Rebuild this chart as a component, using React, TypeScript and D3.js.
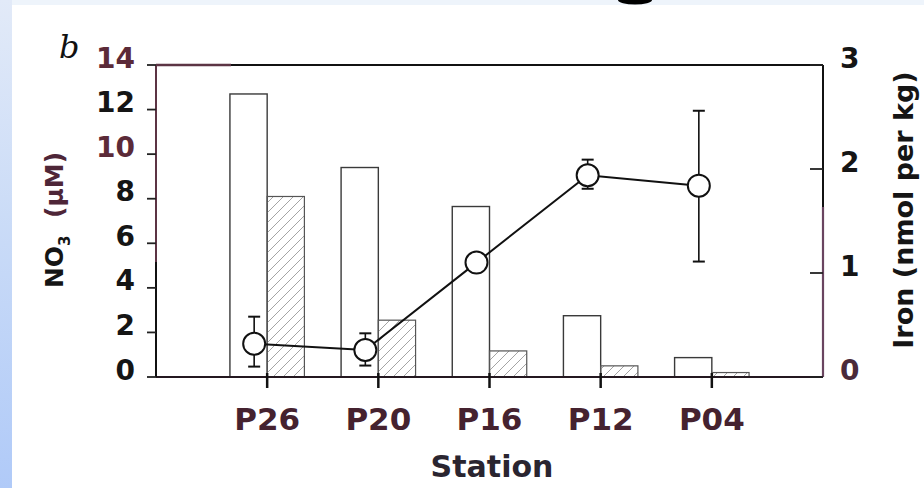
import React from 'react';
import * as d3 from 'd3';

// ---- data ----
const stations = ['P26', 'P20', 'P16', 'P12', 'P04'];
const no3Open = [12.7, 9.4, 7.65, 2.75, 0.87];
const no3Hatched = [8.1, 2.55, 1.17, 0.5, 0.2];
const iron = [0.32, 0.26, 1.1, 1.94, 1.84];
const ironUpper = [0.58, 0.42, 1.1, 2.09, 2.56];
const ironLower = [0.1, 0.11, 1.1, 1.81, 1.11];
const leftTicks = [0, 2, 4, 6, 8, 10, 12, 14];
const rightTicks = [0, 1, 2, 3];
const leftTickColors: Record<number, string> = { 14: '#5b2a38', 10: '#5b2a38' };

const W = 924;
const H = 488;
const L = 156, R = 823, T = 65, B = 377;
const FONT = '"DejaVu Sans", sans-serif';

export default function App() {
  const x = d3.scaleLinear().domain([0, stations.length + 1]).range([L, R]);
  const yL = d3.scaleLinear().domain([0, 14]).range([B, T]);
  const yR = d3.scaleLinear().domain([0, 3]).range([B, T]);
  const half = 0.335; // bar width in x-domain units
  const ptOff = -13; // iron marker offset (px)

  const linePts: [number, number][] = iron.map((v, i) => [x(i + 1) + ptOff, yR(v)]);
  const line = d3.line()(linePts) || '';

  return (
    <svg width={W} height={H} style={{ position: 'absolute', left: 0, top: 0 }}>
      <defs>
        <linearGradient id="strip" x1="0" y1="0" x2="0" y2="1">
          <stop offset="0" stopColor="#e2eaf8" />
          <stop offset="0.5" stopColor="#c8daf7" />
          <stop offset="1" stopColor="#b0caf8" />
        </linearGradient>
        <pattern id="hatch" patternUnits="userSpaceOnUse" width="10" height="10">
          <path d="M-1,11 L11,-1 M-2,2 L2,-2 M8,12 L12,8" stroke="#9a9a9a" strokeWidth="0.9" />
        </pattern>
      </defs>
      <rect x={0} y={0} width={W} height={H} fill="#ffffff" />
      <rect x={12} y={0} width={W - 12} height={5} fill="#eef4fb" />
      <rect x={0} y={0} width={12} height={H} fill="url(#strip)" />
      <ellipse cx={635} cy={0} rx={17} ry={4.5} fill="#000" />

      {/* bars */}
      {stations.map((s, i) => (
        <g key={s}>
          <rect
            x={x(i + 1 - half)}
            y={yL(no3Open[i])}
            width={x(i + 1) - x(i + 1 - half)}
            height={B - yL(no3Open[i])}
            fill="#fff"
            stroke="#3a3a3a"
            strokeWidth={1.4}
          />
          <rect
            x={x(i + 1)}
            y={yL(no3Hatched[i])}
            width={x(i + 1 + half) - x(i + 1)}
            height={B - yL(no3Hatched[i])}
            fill="url(#hatch)"
            stroke="#555"
            strokeWidth={1.2}
          />
        </g>
      ))}

      {/* axes frame */}
      <line x1={L} y1={T} x2={R} y2={T} stroke="#111" strokeWidth={2} />
      <line x1={L} y1={T} x2={L + 75} y2={T} stroke="#5c3444" strokeWidth={2.5} />
      <line x1={L} y1={B} x2={R} y2={B} stroke="#241820" strokeWidth={2} />
      <line x1={L} y1={T} x2={L} y2={262} stroke="#5c3444" strokeWidth={2} />
      <line x1={L} y1={262} x2={L} y2={B} stroke="#111" strokeWidth={2} />
      <line x1={R} y1={T} x2={R} y2={207} stroke="#111" strokeWidth={2} />
      <line x1={R} y1={207} x2={R} y2={B} stroke="#6a4560" strokeWidth={2.2} />

      {/* left ticks */}
      {leftTicks.map((t) => (
        <g key={'l' + t}>
          <line x1={L - 9} y1={yL(t)} x2={L} y2={yL(t)} stroke="#222" strokeWidth={1.8} />
          <text
            x={135}
            y={yL(t) - 7}
            textAnchor="end"
            dominantBaseline="central"
            fontFamily={FONT}
            fontWeight="bold"
            fontSize={28}
            fill={leftTickColors[t] || '#151515'}
          >
            {t}
          </text>
        </g>
      ))}

      {/* right ticks */}
      {rightTicks.map((t) => (
        <g key={'r' + t}>
          <line x1={R - 13} y1={yR(t)} x2={R} y2={yR(t)} stroke="#222" strokeWidth={1.8} />
          <text
            x={840}
            y={yR(t) - 7}
            textAnchor="start"
            dominantBaseline="central"
            fontFamily={FONT}
            fontWeight="bold"
            fontSize={28}
            fill={t === 0 ? '#4a2a3a' : '#151515'}
          >
            {t}
          </text>
        </g>
      ))}

      {/* x ticks + labels */}
      {stations.map((s, i) => (
        <g key={'x' + s}>
          <line x1={x(i + 1)} y1={B - 4} x2={x(i + 1)} y2={B + 11} stroke="#111" strokeWidth={2.5} />
          <text
            x={x(i + 1)}
            y={430}
            textAnchor="middle"
            fontFamily={FONT}
            fontWeight="bold"
            fontSize={31}
            fill="#45222f"
          >
            {s}
          </text>
        </g>
      ))}
      <text x={492} y={477} textAnchor="middle" fontFamily={FONT} fontWeight="bold" fontSize={30} fill="#2a2530">
        Station
      </text>

      {/* iron line + error bars + markers */}
      <path d={line} fill="none" stroke="#111" strokeWidth={2} />
      {iron.map((v, i) => {
        const cx = x(i + 1) + ptOff;
        return (
          <g key={'e' + i}>
            <line x1={cx} y1={yR(ironUpper[i])} x2={cx} y2={yR(ironLower[i])} stroke="#111" strokeWidth={1.6} />
            <line x1={cx - 6} y1={yR(ironUpper[i])} x2={cx + 6} y2={yR(ironUpper[i])} stroke="#111" strokeWidth={2} />
            <line x1={cx - 6} y1={yR(ironLower[i])} x2={cx + 6} y2={yR(ironLower[i])} stroke="#111" strokeWidth={2} />
            <circle cx={cx} cy={yR(v)} r={11} fill="#fff" stroke="#111" strokeWidth={2} />
          </g>
        );
      })}

      {/* axis titles */}
      <text
        transform="translate(63,220) rotate(-90)"
        textAnchor="middle"
        fontFamily={FONT}
        fontWeight="bold"
        fontSize={25}
        fill="#151515"
      >
        NO<tspan fontSize={15} dy={7}>3</tspan>
        <tspan dy={-7}>{'\u00a0\u00a0'}</tspan>
        <tspan fill="#4e2638">(µM)</tspan>
      </text>
      <text
        transform="translate(913,210) rotate(-90)"
        textAnchor="middle"
        fontFamily={FONT}
        fontWeight="bold"
        fontSize={27}
        fill="#151515"
      >
        Iron (nmol per kg)
      </text>
      <text x={59} y={58} fontFamily='"DejaVu Serif", serif' fontStyle="italic" fontSize={32} fill="#111">
        b
      </text>
    </svg>
  );
}
